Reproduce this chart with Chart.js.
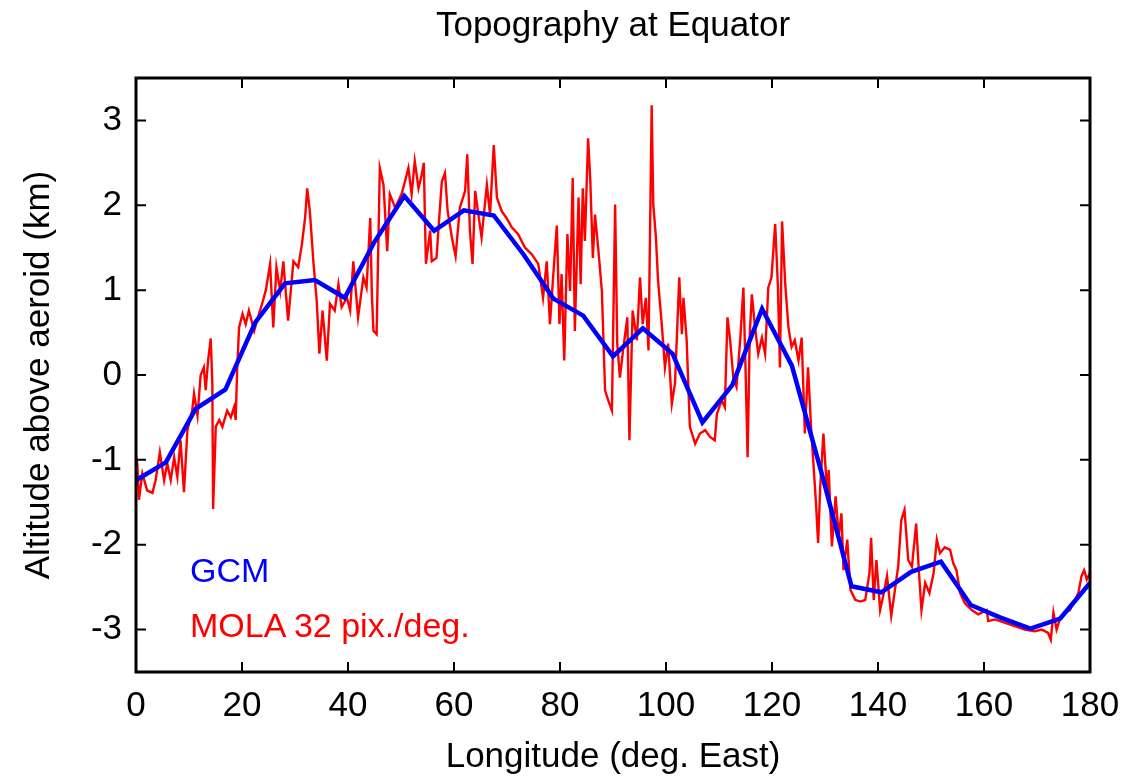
<!DOCTYPE html>
<html>
<head>
<meta charset="utf-8">
<script src="https://cdn.jsdelivr.net/npm/chart.js@4.4.1/dist/chart.umd.min.js"></script>
<style>
  html, body { margin: 0; padding: 0; background: #fff; }
  #wrap { position: relative; width: 1128px; height: 779px; }
  .key { position: absolute; left: 190px; font: 34px "Liberation Sans", Arial, sans-serif; line-height: 40px; white-space: nowrap; }
</style>
</head>
<body>
<div id="wrap">
  <canvas id="topo" width="1128" height="779"></canvas>
  <div class="key" style="top:550px;color:#0000ff">GCM</div>
  <div class="key" style="top:605px;color:#ff0000">MOLA 32 pix./deg.</div>
</div>
<script>
const xTicks = [0, 20, 40, 60, 80, 100, 120, 140, 160, 180];
const yTicks = [-3, -2, -1, 0, 1, 2, 3];

// GCM grid points (deg East, km)
const gcmLon = [0, 5.625, 11.25, 16.875, 22.5, 28.125, 33.75, 39.375, 45, 50.625, 56.25, 61.875, 67.5,
  73.125, 78.75, 84.375, 90, 95.625, 101.25, 106.875, 112.5, 118.125, 123.75, 129.375, 135, 140.625,
  146.25, 151.875, 157.5, 163.125, 168.75, 174.375, 180];
const gcmAlt = [-1.24, -1.03, -0.40, -0.17, 0.62, 1.08, 1.12, 0.91, 1.57, 2.11, 1.70, 1.94, 1.88,
  1.42, 0.90, 0.70, 0.22, 0.55, 0.25, -0.56, -0.12, 0.78, 0.11, -1.16, -2.49, -2.56,
  -2.32, -2.20, -2.71, -2.86, -2.99, -2.87, -2.45];

// MOLA profile
const molaLon = [0, 0.25, 0.55, 1.2, 2.1, 3.1, 3.7, 4.5, 5.3, 5.9, 6.55, 7.2, 7.8, 8.4, 9.05, 9.7, 10.6, 10.95,
  11.6, 12.2, 12.8, 13.15, 13.6, 14.1, 14.4, 14.55, 15.05, 15.7, 16.3, 17.2, 17.9, 18.5, 18.8, 19.1, 19.45,
  20.1, 20.7, 21.3, 22.3, 23.2, 23.8, 24.5,
  25.3, 25.9, 26.5, 27.2, 27.8, 28.7, 29.7, 30.6, 31.3, 31.9, 32.3, 32.8, 33.5, 34.1, 34.6, 35.2, 36.0, 36.6,
  37.5, 38.2, 38.8, 39.8, 40.4, 41.0, 41.9, 42.9, 43.5, 44.2, 44.5, 44.8, 45.4, 45.7, 46.0, 46.7, 47.4, 47.9,
  48.9, 50.1,
  50.75, 51.4, 52.0, 52.6, 53.3, 53.9, 54.3, 54.7, 55.5, 55.8, 56.7, 57.0, 57.7, 58.3, 58.8, 59.6, 60.3, 61.1,
  62.1, 62.5, 63.0, 63.5, 64.0, 64.6, 65.2, 66.2, 66.8, 67.5, 68.1, 69.0, 69.9, 70.9, 72.1, 73.4, 74.7, 75.9,
  76.8, 77.5, 78.1, 78.7, 79.4, 79.9, 80.3, 80.8, 81.4, 81.9, 82.4, 82.8, 83.5, 83.9, 84.3, 84.7, 85.3, 85.7,
  86.2, 86.6, 87.2, 87.9, 88.5, 89.1, 89.8, 90.4, 90.8, 91.3, 91.9, 92.7, 93.1, 93.7, 94.5, 95.1, 95.6, 96.2,
  96.7, 97.3, 97.6, 98.1, 98.5, 99.2, 99.8, 100.4, 101.1, 101.7,
  102.5, 103.0, 103.3, 103.9, 104.5, 105.5, 106.4, 107.4, 108.3, 109.2, 109.6, 110.5, 111.1, 111.6, 112.1,
  112.7, 113.3, 114.0, 114.6, 115.0, 115.4, 115.8, 116.2, 116.8, 117.4, 118.1, 118.7, 119.3, 119.9, 120.6,
  121.1, 121.5, 121.9, 122.5, 123.1, 123.7, 124.3, 125.0, 125.6, 126.2, 126.8,
  127.4, 128.3, 128.7, 129.1, 129.7, 130.4, 130.7, 131.3, 132.0, 132.6, 133.1, 133.5, 134.2, 134.8, 135.7,
  136.7, 137.6, 138.4, 138.7, 139.2, 139.7, 140.4, 141.1, 141.7, 142.5, 143.2, 143.8, 144.4, 145.0, 145.7,
  146.4, 147.2, 147.7, 148.2, 148.9, 149.7, 150.5, 151.1, 151.7, 152.6,
  153.6, 154.2, 154.8, 155.5, 156.4, 157.7, 158.9, 160.5, 160.8, 162.1, 164.0, 165.8, 167.7, 169.6, 170.9,
  172.1, 172.6, 173.1, 173.7, 174.3, 175.3, 176.2, 177.2, 177.8, 178.4, 178.9, 179.4, 180];
const molaAlt = [-0.95, -1.05, -1.47, -1.16, -1.36, -1.39, -1.24, -0.91, -1.24, -1.04, -1.24, -0.97, -1.2, -0.77,
  -1.38, -0.65, -0.42, -0.22, -0.48, 0.0, 0.09, -0.18, 0.17, 0.43, -0.1, -1.58, -0.61, -0.53, -0.61, -0.42,
  -0.5, -0.38, -0.53, 0.09, 0.56, 0.72, 0.6, 0.76, 0.52, 0.72, 0.84, 1.0,
  1.31, 0.56, 1.27, 0.99, 1.34, 0.64, 1.34, 1.27, 1.54, 1.85, 2.2, 1.93, 1.31, 0.87, 0.25, 0.76, 0.17, 0.84,
  0.76, 1.07, 0.8, 0.91, 0.76, 1.34, 0.68, 1.15, 1.03, 1.85, 0.95, 0.52, 0.48, 1.46, 2.44, 2.24, 1.46, 2.13,
  1.97, 2.13,
  2.28, 2.44, 2.13, 2.52, 2.2, 2.36, 2.5, 1.31, 1.7, 1.34, 1.38, 1.66, 2.28, 2.38, 1.93, 1.62, 1.4, 1.97,
  2.17, 2.6, 1.7, 1.31, 2.17, 1.89, 1.62, 2.24, 1.89, 2.71, 2.09, 1.93, 1.85, 1.74, 1.66, 1.5, 1.42, 1.31,
  0.91, 1.34, 0.6, 1.15, 1.76, 0.6, 1.19, 0.17, 1.66, 0.99, 2.32, 0.52, 2.09, 1.07, 2.2, 1.58, 2.79, 2.32,
  1.38, 1.89, 1.5, 0.99, -0.18, -0.3, -0.42, 2.01, 0.37, -0.03, 0.29, 0.68, -0.77, 0.76, 0.41, 1.15, 0.6, 0.91,
  0.29, 3.18, 2.01, 1.62, 1.11, 0.6, 0.09, 0.37, -0.34, -0.1,
  1.15, 0.48, 0.91, 0.41, -0.61, -0.81, -0.69, -0.65, -0.73, -0.77, -0.46, -0.3, -0.38, 0.68, 0.41,
  -0.03, -0.14, 0.41, 1.03, 0.09, -0.97, 0.48, 0.95, 0.56, 0.25, 0.44, 0.25, 1.03, 1.15, 1.78,
  1.07, 0.09, 1.81, 1.07, 0.56, 0.33, 0.41, 0.17, 0.44, -0.69, 0.09,
  -0.65, -1.51, -1.98, -1.32, -0.69, -1.39, -1.12, -2.02, -1.43, -1.9, -1.63, -2.3, -1.94, -2.53, -2.65,
  -2.67, -2.65, -2.33, -1.92, -2.65, -2.18, -2.77, -2.57, -2.37, -2.84, -2.53, -2.26, -1.71, -1.59, -2.18,
  -2.26, -1.75, -2.3, -2.77, -2.45, -2.57, -2.33, -1.94, -2.1, -2.03,
  -2.06, -2.22, -2.3, -2.57, -2.69, -2.77, -2.82, -2.77, -2.9, -2.88, -2.92, -2.96, -3.0, -3.02, -3.0,
  -3.04, -3.12, -2.8, -3.0, -2.88, -2.8, -2.77, -2.65, -2.57, -2.37, -2.3, -2.41, -2.33];

const font = { family: '"Liberation Sans", Arial, sans-serif', size: 35, weight: 'normal' };
const chartTitle = 'Topography at Equator';

// gnuplot style border with inward ticks on all four sides, title centred over the plot
const frame = {
  id: 'frame',
  afterDatasetsDraw(chart) {
    const { ctx, chartArea: a, scales: { x, y } } = chart;
    ctx.save();
    ctx.strokeStyle = '#000';
    ctx.lineWidth = 2;
    ctx.beginPath();
    x.ticks.forEach(t => {
      const px = x.getPixelForValue(t.value);
      ctx.moveTo(px, a.bottom); ctx.lineTo(px, a.bottom - 10);
      ctx.moveTo(px, a.top); ctx.lineTo(px, a.top + 10);
    });
    y.ticks.forEach(t => {
      const py = y.getPixelForValue(t.value);
      ctx.moveTo(a.left, py); ctx.lineTo(a.left + 10, py);
      ctx.moveTo(a.right, py); ctx.lineTo(a.right - 10, py);
    });
    ctx.stroke();
    ctx.lineWidth = 3;
    ctx.strokeRect(a.left, a.top, a.right - a.left, a.bottom - a.top);

    ctx.fillStyle = '#000';
    ctx.font = `${font.size}px ${font.family}`;
    ctx.textAlign = 'center';
    ctx.textBaseline = 'middle';
    ctx.fillText(chartTitle, (a.left + a.right) / 2, 26);
    ctx.restore();
  }
};

new Chart(document.getElementById('topo'), {
  type: 'line',
  data: {
    datasets: [
      { label: 'GCM', data: gcmLon.map((x, i) => ({ x, y: gcmAlt[i] })),
        borderColor: '#0000ff', borderWidth: 4.5, pointRadius: 0, tension: 0 },
      { label: 'MOLA 32 pix./deg.', data: molaLon.map((x, i) => ({ x, y: molaAlt[i] })),
        borderColor: '#ff0000', borderWidth: 2.4, pointRadius: 0, tension: 0 }
    ]
  },
  options: {
    responsive: false,
    animation: false,
    layout: { padding: { left: 0, right: 38, top: 78, bottom: 0 } },
    plugins: {
      legend: { display: false },
      tooltip: { enabled: false },
      title: { display: false }
    },
    scales: {
      x: {
        type: 'linear', min: 0, max: 180,
        ticks: { color: '#000', font, padding: 13, maxRotation: 0 },
        grid: { display: false, drawTicks: false },
        border: { display: false },
        title: { display: true, text: 'Longitude (deg. East)', color: '#000', font, padding: { top: 0, bottom: 1 } },
        afterBuildTicks(s) { s.ticks = xTicks.map(v => ({ value: v })); },
        afterFit(s) { s.height = 107; s.paddingLeft = 0; s.paddingRight = 0; }
      },
      y: {
        min: -3.5, max: 3.5,
        ticks: { color: '#000', font, padding: 14 },
        grid: { display: false, drawTicks: false },
        border: { display: false },
        title: { display: true, text: 'Altitude above aeroid (km)', color: '#000', font, padding: { top: 18, bottom: 0 } },
        afterBuildTicks(s) { s.ticks = yTicks.map(v => ({ value: v })); },
        afterFit(s) { s.width = 136; s.paddingTop = 0; s.paddingBottom = 0; }
      }
    }
  },
  plugins: [frame]
});
</script>
</body>
</html>
